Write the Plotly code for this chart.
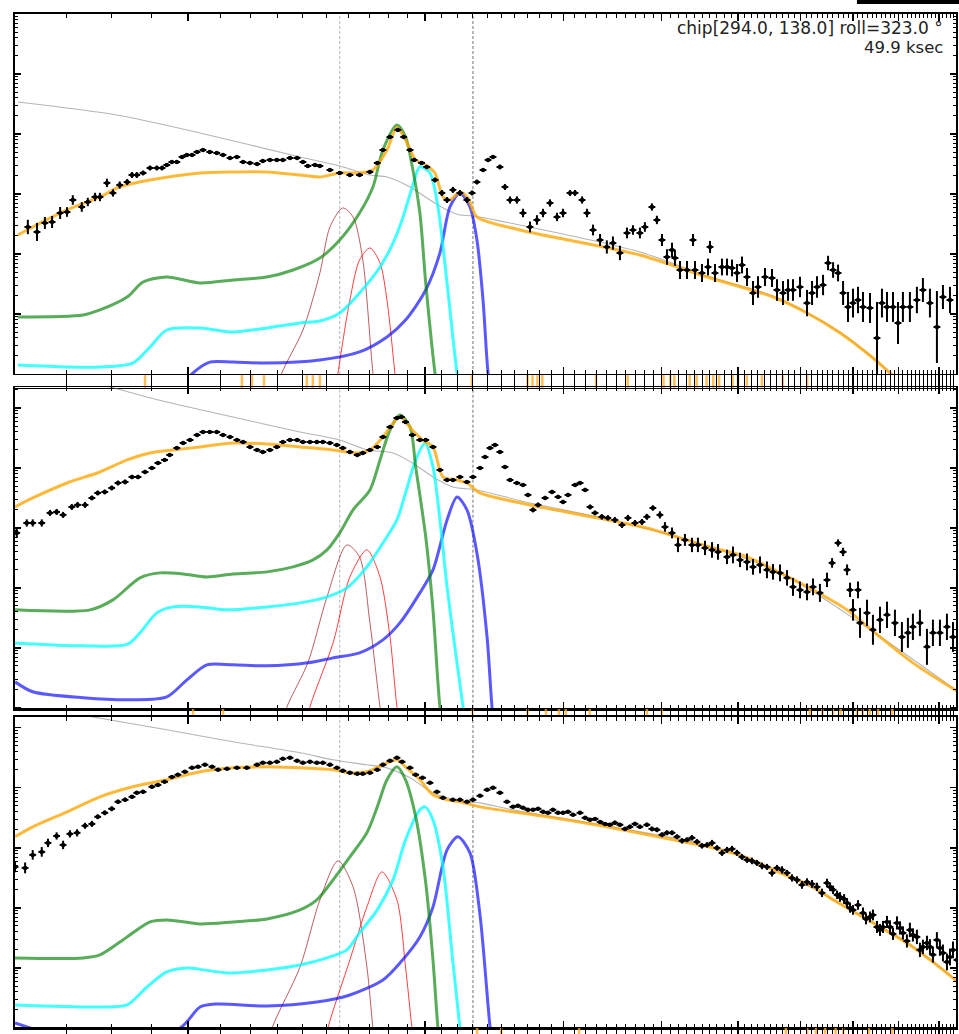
import plotly.graph_objects as go

# ---------------- data: energies (keV) and rates ----------------
# Panel 1
p1_E = [0.626,0.643,0.658,0.672,0.688,0.702,0.714,0.733,0.746,0.762,0.773,0.789,0.803,0.819,0.837,0.849,0.861,0.877,0.895,0.913,
        0.927,0.940,0.954,0.968,0.983,0.997,1.012,1.027,1.045,1.066,1.088,1.108,1.131,1.154,1.175,1.199,1.224,1.245,1.271,1.297,
        1.320,1.348,1.376,1.400,1.420,1.450,1.471,1.515,1.559,1.606,1.652,1.703,1.740,1.769,1.806,1.848,1.880,1.915,1.938,1.981,
        2.011,2.060,2.102,2.134,2.171,2.216,2.262,2.296,2.329,2.371,2.406,2.441,2.491,2.528,2.566,2.618,2.665,2.720,2.776,2.826,
        2.884,2.944,2.996,3.058,3.103,3.168,3.214,3.271,3.339,3.406,3.467,3.539,3.613,3.676,3.752,3.807,3.886,3.943,4.002,4.061,
        4.121,4.157,4.219,4.306,4.382,4.408,4.499,4.579,4.606,4.674,4.770,4.841,4.912,4.984,5.058,5.132,5.223,5.300,5.410,5.522,
        5.603,5.702,5.787,5.872,5.993,6.117,6.208,6.299,6.411,6.506,6.602,6.699,6.798,6.897,6.998,7.101,7.206,7.355,7.507,7.617,
        7.730,7.867,7.983,8.099,8.266,8.437,8.587,8.765,8.946,9.105,9.294]
p1_rate = [0.0282,0.0233,0.0329,0.0341,0.0482,0.0501,0.0794,0.0607,0.0736,0.0891,0.0891,0.153,0.104,0.141,0.158,0.207,0.207,0.224,0.271,0.271,
           0.271,0.304,0.341,0.341,0.414,0.447,0.447,0.501,0.541,0.501,0.482,0.447,0.398,0.414,0.341,0.329,0.316,0.355,0.369,0.369,
           0.369,0.398,0.398,0.341,0.293,0.304,0.293,0.251,0.224,0.207,0.207,0.233,0.329,0.541,0.891,1.17,0.891,0.541,0.369,0.329,
           0.282,0.171,0.104,0.0794,0.117,0.104,0.0794,0.104,0.158,0.251,0.369,0.414,0.282,0.131,0.0794,0.0794,0.0482,0.0282,0.0369,0.0482,
           0.0708,0.0414,0.0482,0.104,0.104,0.0794,0.0482,0.0251,0.0171,0.0131,0.0152,0.0104,0.0224,0.0251,0.0224,0.0282,0.0607,0.0369,0.0171,0.00891,
           0.0117,0.00857,0.00541,0.00541,0.0171,0.00541,0.00482,0.00607,0.0131,0.00482,0.00607,0.00607,0.00585,0.00482,0.00656,0.00414,0.00224,0.00282,0.00414,0.00398,
           0.00251,0.00224,0.00251,0.00251,0.00282,0.00152,0.00224,0.00282,0.00304,0.00708,0.00541,0.00482,0.00224,0.00131,0.00152,0.00171,0.00131,0.00126,0.000398,0.00152,
           0.00131,0.00131,0.000708,0.00131,0.00131,0.00171,0.00251,0.00152,0.000607,0.00192,0.00171]
p1_err_dex = [0.12,0.15,0.10,0.10,0.10,0.08,0.08,0.08,0.07,0.07,0.07,
              0.07,0.06,0.06,0.05,0.05,0.05,0.04,0.04,0.04,0.04,0.03,0.03,0.03,
              0.03,0.03,0.03,0.03,0.03,0.03,0.03,0.03,0.03,0.03,0.03,0.03,0.03,0.03,0.03,0.03,0.03,0.03,0.03,0.03,0.03,0.03,0.03,0.03,
              0.03,0.03,0.03,0.03,0.03,0.03,0.02,0.02,0.02,0.03,0.03,0.03,0.03,0.04,0.05,0.05,0.05,0.05,0.05,0.04,0.04,0.03,0.03,0.03,
              0.04,0.05,0.06,0.06,0.07,0.09,0.08,0.07,0.06,0.07,0.07,0.05,0.05,0.06,0.07,0.09,0.10,0.11,0.11,0.12,0.09,0.08,0.09,0.08,0.06,0.07,
              0.10,0.13,0.12,0.13,0.15,0.15,0.10,0.15,0.15,0.14,0.10,0.15,0.14,0.14,0.14,0.15,0.14,0.15,0.20,0.18,0.15,0.15,0.18,0.20,0.18,0.18,0.17,
              0.22,0.20,0.18,0.17,0.12,0.13,0.14,0.20,0.25,0.24,0.22,0.25,0.25,0.60,0.24,0.25,0.25,0.35,0.25,0.25,0.22,0.20,0.24,0.60,0.20,0.22]

p1_total_E = [0.608,0.635,0.702,0.773,0.819,0.895,1.036,1.141,1.260,1.388,1.471,1.559,1.652,1.718,1.790,1.843,1.890,1.947,2.005,2.060,
              2.109,2.152,2.216,2.269,2.329,2.641,3.752,4.566,5.538,6.117,6.738,7.419,7.798,8.200]
p1_total = [0.0207,0.0282,0.0541,0.0891,0.131,0.171,0.224,0.233,0.233,0.207,0.192,0.224,0.224,0.251,0.541,1.3,0.794,0.369,0.304,0.224,
            0.0891,0.0794,0.108,0.0857,0.0414,0.0251,0.00962,0.00414,0.00192,0.00104,0.000482,0.000185,0.000104,0.00006]
p1_gray_E = [0.608,0.812,1.036,1.388,1.559,1.703,1.790,1.915,2.030,2.134,2.216,2.302,2.641,3.752,4.566,5.538,6.738,7.798,8.2]
p1_gray = [3.41,2.07,1.04,0.414,0.293,0.207,0.192,0.131,0.0794,0.0541,0.0447,0.0430,0.0304,0.0108,0.0043,0.002,0.0005,0.000108,0.00006]
p1_green_E = [0.608,0.736,0.773,0.837,0.877,0.940,1.036,1.141,1.260,1.360,1.471,1.559,1.652,1.718,1.769,1.843,1.890,1.928,1.971,2.005,2.060,2.090]
p1_green = [0.000891,0.000962,0.00117,0.00192,0.00341,0.00414,0.00329,0.00369,0.00414,0.00541,0.00857,0.0171,0.0482,0.131,0.541,1.41,0.891,0.282,0.0482,0.00329,0.000104,0.00003]
p1_cyan_E = [0.608,0.702,0.773,0.851,0.895,0.940,1.036,1.141,1.260,1.388,1.471,1.559,1.652,1.754,1.822,1.871,1.928,1.971,2.030,2.078,2.134,2.197,2.230]
p1_cyan = [0.000141,0.000131,0.000131,0.000152,0.000282,0.000541,0.000585,0.000501,0.000585,0.000708,0.000764,0.00104,0.00224,0.00607,0.0152,0.0369,0.131,0.282,0.224,0.0607,0.00329,0.000104,0.00003]
p1_blue_E = [0.970,1.015,1.066,1.141,1.260,1.471,1.652,1.790,1.890,2.005,2.090,2.152,2.216,2.282,2.329,2.371,2.406,2.440]
p1_blue = [0.00005,0.000104,0.000158,0.000158,0.000152,0.000171,0.000233,0.000414,0.000794,0.00251,0.0104,0.0607,0.104,0.0607,0.0171,0.00171,0.000104,0.00003]
p1_dred_E = [1.28,1.316,1.400,1.471,1.515,1.573,1.621,1.668,1.718,1.74]
p1_dred = [0.00003,0.000104,0.000541,0.00482,0.0282,0.0585,0.0414,0.00794,0.000104,0.00003]
p1_red_E = [1.53,1.551,1.606,1.652,1.703,1.754,1.790,1.832,1.85]
p1_red = [0.00003,0.000104,0.00171,0.00794,0.0126,0.00708,0.00171,0.000104,0.00003]
p1_rug_E = [0.882,1.171,1.206,1.249,1.416,1.441,1.471,2.295,2.70,2.74,2.78,2.82,3.30,3.62,4.02,4.10,4.15,4.34,4.43,4.56,4.65,4.73,4.92,5.0,5.13,5.36,5.70,6.12]

# Panel 2
p2_E = [0.606,0.624,0.635,0.652,0.668,0.681,0.694,0.712,0.724,0.740,0.755,0.768,0.784,0.800,0.815,0.832,0.849,0.864,0.882,0.900,
        0.916,0.934,0.948,0.968,0.986,1.006,1.027,1.045,1.066,1.088,1.108,1.131,1.154,1.175,1.199,1.224,1.245,1.271,1.297,1.320,
        1.348,1.376,1.400,1.429,1.458,1.484,1.515,1.546,1.573,1.606,1.641,1.668,1.703,1.740,1.769,1.806,1.843,1.867,1.890,1.928,
        1.971,2.005,2.048,2.090,2.134,2.171,2.216,2.262,2.302,2.350,2.385,2.420,2.455,2.491,2.528,2.566,2.618,2.665,2.704,2.744,
        2.785,2.843,2.901,2.953,2.996,3.040,3.103,3.149,3.196,3.243,3.290,3.357,3.416,3.487,3.560,3.623,3.698,3.774,3.829,3.897,
        3.978,4.037,4.121,4.194,4.280,4.369,4.446,4.539,4.633,4.715,4.841,4.926,5.028,5.132,5.223,5.331,5.441,5.538,5.653,5.770,
        5.872,5.993,6.117,6.226,6.353,6.486,6.583,6.699,6.798,6.878,6.938,6.998,7.101,7.143,7.291,7.419,7.573,7.730,7.912,8.075,
        8.218,8.339,8.512,8.689,8.842,9.025,9.212,9.376]
p2_rate = [0.0826,0.121,0.121,0.121,0.178,0.185,0.165,0.224,0.242,0.242,0.316,0.383,0.398,0.464,0.562,0.585,0.708,0.708,0.857,1.0,
           1.21,1.36,1.65,2.15,2.61,2.93,3.55,3.98,3.98,3.98,3.55,3.29,2.93,2.71,2.24,2.0,1.85,2.0,2.24,2.71,
           2.93,2.93,2.71,2.71,2.71,2.71,2.61,2.42,2.15,1.85,1.65,1.78,2.0,2.24,3.29,4.82,6.81,7.08,5.85,3.55,
           2.93,2.93,2.24,0.926,0.631,0.631,0.708,0.585,0.708,1.0,1.52,2.15,2.42,1.85,1.04,0.631,0.562,0.521,0.355,0.2,
           0.242,0.316,0.398,0.329,0.271,0.355,0.521,0.562,0.430,0.224,0.178,0.153,0.147,0.136,0.112,0.147,0.121,0.126,0.153,0.215,
           0.165,0.104,0.0826,0.0521,0.0631,0.0521,0.0521,0.0464,0.0430,0.0398,0.0329,0.0355,0.0293,0.0271,0.0224,0.0242,0.02,0.0185,0.0178,0.0147,
           0.0104,0.00926,0.00857,0.0104,0.00826,0.0136,0.0261,0.0562,0.0398,0.02,0.00926,0.0043,0.00926,0.00261,0.00383,0.002,0.00293,0.00355,0.00261,0.00152,
           0.00178,0.00224,0.00261,0.00104,0.00178,0.00178,0.00224,0.00152]
p2_err_dex = [0.07,0.06,0.06,0.06,0.05,0.05,0.05,0.05,0.05,0.05,0.04,0.04,0.04,0.04,0.04,0.04,0.035,0.035,0.035,0.03,
              0.025,0.025,0.025,0.025,0.025,0.025,0.025,0.025,0.025,0.025,0.025,0.025,0.025,0.025,0.025,0.025,0.025,0.025,0.025,0.025,
              0.025,0.025,0.025,0.025,0.025,0.025,0.025,0.025,0.025,0.025,0.025,0.025,0.025,0.025,0.025,0.025,0.025,0.025,0.025,0.025,
              0.025,0.025,0.025,0.03,0.03,0.03,0.03,0.03,0.03,0.025,
              0.025,0.025,0.025,0.025,0.03,0.03,0.03,0.03,0.035,0.04,0.04,0.035,0.035,0.035,0.035,0.035,0.03,0.03,0.035,0.04,
              0.04,0.045,0.045,0.05,0.05,0.05,0.05,0.05,0.05,0.045,
              0.06,0.08,0.09,0.12,0.1,0.12,0.12,0.12,0.13,0.13,0.12,0.14,0.12,0.14,0.13,0.14,0.14,0.13,0.14,0.13,0.15,0.14,0.14,0.14,0.15,
              0.12,0.08,0.06,0.07,0.09,0.12,0.18,0.14,
              0.25,0.22,0.25,0.22,0.22,0.22,0.25,0.25,0.22,0.22,0.3,0.22,0.22,0.22,0.25]
p2_total_E = [0.603,0.635,0.702,0.773,0.837,0.895,0.957,1.036,1.141,1.260,1.388,1.529,1.641,1.703,1.769,1.859,1.928,1.986,2.048,2.109,
              2.197,2.262,2.350,2.720,3.310,3.829,4.219,4.646,5.132,5.653,6.226,6.878,7.573,8.339,9.514]
p2_total = [0.224,0.316,0.562,0.857,1.36,1.78,2.0,2.24,2.61,2.51,2.24,2.0,1.78,2.0,3.29,7.08,4.30,2.93,2.24,0.708,
            0.631,0.562,0.383,0.242,0.147,0.1,0.0681,0.0464,0.0329,0.0178,0.00926,0.0043,0.00152,0.000562,0.000185]
p2_gray_E = [0.603,0.796,0.940,1.141,1.388,1.559,1.688,1.822,1.928,2.048,2.171,2.329,2.720,3.310,4.219,5.653,7.573,9.514]
p2_gray = [58.5,22.4,12.6,7.08,3.98,2.93,2.0,1.78,1.21,0.708,0.482,0.430,0.261,0.153,0.069,0.018,0.00155,0.000187]
p2_green_E = [0.603,0.751,0.803,0.869,0.921,0.986,1.057,1.141,1.260,1.360,1.442,1.502,1.559,1.621,1.703,1.754,1.806,1.859,1.915,1.947,2.005,2.048,2.090,2.12]
p2_green = [0.0043,0.0043,0.00631,0.0147,0.0178,0.0171,0.0152,0.0171,0.0185,0.0224,0.0293,0.043,0.0826,0.2,0.43,1.36,4.3,7.64,4.82,1.04,0.0708,0.0043,0.000104,0.00003]
p2_cyan_E = [0.603,0.736,0.837,0.869,0.913,0.957,1.036,1.121,1.260,1.388,1.502,1.592,1.688,1.769,1.843,1.890,1.947,2.001,2.048,2.090,2.134,2.197,2.236,2.26]
p2_cyan = [0.00121,0.00108,0.00114,0.00178,0.00383,0.00482,0.00482,0.0043,0.00482,0.00562,0.00708,0.01,0.0224,0.0562,0.136,0.383,1.36,2.61,1.04,0.136,0.0104,0.000562,0.000104,0.00003]
p2_blue_E = [0.603,0.635,0.736,0.851,0.940,0.997,1.057,1.141,1.260,1.420,1.529,1.652,1.769,1.859,1.971,2.048,2.134,2.197,2.262,2.329,2.399,2.434,2.46]
p2_blue = [0.000271,0.000185,0.000147,0.000136,0.000152,0.000293,0.000521,0.000521,0.000501,0.000562,0.000681,0.000826,0.00136,0.00261,0.00826,0.02,0.136,0.329,0.2,0.0383,0.00152,0.000104,0.00003]
p2_dred_E = [1.30,1.336,1.420,1.502,1.592,1.652,1.703,1.754,1.78]
p2_dred = [0.00003,0.000104,0.000562,0.00708,0.0521,0.0329,0.00261,0.000104,0.00003]
p2_red_E = [1.40,1.429,1.529,1.606,1.688,1.754,1.806,1.843,1.87]
p2_red = [0.00003,0.000104,0.00121,0.0152,0.043,0.0152,0.00152,0.000104,0.00003]
p2_rug_E = [1.015,1.108,2.30,2.70,2.85,2.96,3.02,3.24,3.83,4.00,6.17,6.40,6.60,6.75,7.08,7.20,7.35,7.53,7.85]

# Panel 3
p3_E = [0.603,0.621,0.635,0.652,0.664,0.681,0.694,0.708,0.723,0.740,0.755,0.768,0.784,0.800,0.815,0.832,0.849,0.861,0.877,0.900,
        0.916,0.934,0.954,0.971,0.991,1.012,1.030,1.051,1.073,1.092,1.121,1.154,1.188,1.224,1.245,1.271,1.297,1.320,1.348,1.376,
        1.400,1.429,1.458,1.484,1.515,1.546,1.573,1.606,1.641,1.668,1.703,1.740,1.769,1.806,1.843,1.871,1.915,1.947,1.986,2.030,
        2.072,2.109,2.171,2.216,2.262,2.302,2.350,2.399,2.441,2.491,2.543,2.588,2.665,2.744,2.826,2.909,2.996,3.085,3.149,3.243,
        3.339,3.436,3.539,3.644,3.752,3.829,3.943,4.061,4.182,4.306,4.434,4.566,4.701,4.841,4.984,5.132,5.284,5.441,5.603,5.770,
        5.941,6.117,6.299,6.486,6.602,6.738,6.878,6.998,7.206,7.355,7.507,7.640,7.798,7.959,8.099,8.266,8.437,8.587,8.765,8.946,
        9.105,9.294,9.487,
        2.626,2.704,2.785,2.867,2.953,3.040,3.196,3.290,3.388,3.487,3.592,3.698,3.886,4.002,4.121,4.244,4.369,4.499,4.633,4.770,
        4.912,5.058,5.207,5.363,5.522,5.686,5.854,6.028,6.208,6.391,6.545,6.680,6.818,6.938,7.101,7.270,7.419,7.573,7.730,7.867,
        8.031,8.194,8.339,8.512,8.689,8.842,9.025,9.212,9.376]
p3_rate = [0.0482,0.0464,0.0764,0.0857,0.121,0.158,0.112,0.171,0.178,0.233,0.251,0.329,0.383,0.447,0.585,0.631,0.708,0.826,0.857,1.04,
           1.12,1.26,1.52,1.65,1.85,2.15,2.24,2.42,2.24,2.0,2.07,2.15,2.15,2.42,2.61,2.61,2.71,3.04,3.16,2.82,
           2.61,2.71,2.61,2.61,2.42,2.15,1.92,1.78,1.71,1.71,1.78,2.0,2.42,2.82,3.16,2.71,2.15,1.65,1.47,1.21,
           0.857,0.681,0.631,0.631,0.585,0.631,0.736,0.926,1.0,0.826,0.585,0.482,0.464,0.430,0.398,0.430,0.383,0.355,0.383,0.293,
           0.271,0.242,0.242,0.224,0.224,0.242,0.2,0.178,0.153,0.136,0.126,0.112,0.1,0.0926,0.0826,0.0631,0.0562,0.0482,0.0464,0.0383,
           0.0293,0.0271,0.0224,0.0261,0.02,0.0152,0.0121,0.00926,0.00826,0.00708,0.00482,0.00482,0.00482,0.00562,0.00383,0.0043,0.00329,0.00224,0.00224,0.00293,
           0.00178,0.00152,0.00136,
           0.501,0.430,0.447,0.383,0.383,0.398,0.316,0.304,0.251,0.261,0.207,0.251,0.207,0.165,0.178,0.131,0.147,0.108,0.121,0.0825,
           0.0962,0.0708,0.0607,0.0501,0.0383,0.043,0.0316,0.0242,0.0251,0.0178,0.0224,0.0165,0.0141,0.01,0.0112,0.00656,0.00764,0.0043,0.00585,0.00369,
           0.00464,0.00282,0.00355,0.002,0.00261,0.00166,0.00215,0.00126,0.002]
p3_err_dex = [0.09,0.09,0.08,0.08,0.07,0.06,0.07,0.06,0.06,0.05,
              0.05,0.04,0.04,0.04,0.035,0.035,0.03,0.03,0.03,0.03,
              0.02,0.02,0.02,0.02,0.02,0.02,0.02,0.02,0.02,0.02,0.02,0.02,0.02,0.02,0.02,0.02,0.02,0.02,0.02,0.02,
              0.02,0.02,0.02,0.02,0.02,0.02,0.02,0.02,0.02,0.02,0.02,0.02,0.02,0.02,0.02,0.02,0.02,0.02,0.02,0.02,
              0.02,0.02,0.02,0.02,0.02,0.02,0.02,0.02,0.02,0.02,0.02,0.02,0.02,0.02,0.025,0.025,0.025,0.025,0.025,0.025,
              0.03,0.03,0.03,0.035,0.035,0.035,0.04,0.04,0.04,0.04,0.045,0.045,0.045,0.05,0.05,0.05,0.05,0.05,0.05,0.05,
              0.06,0.06,0.07,0.07,0.07,0.08,0.08,0.08,0.09,0.09,
              0.10,0.10,0.11,0.11,0.11,0.12,0.12,0.12,0.13,0.13,0.14,0.14,0.15,
              0.025,0.025,0.025,0.025,0.025,0.03,0.03,0.03,0.03,0.035,0.035,0.035,0.04,0.04,0.04,0.045,0.045,0.045,0.05,0.05,
              0.05,0.05,0.055,0.055,0.06,0.06,0.06,0.065,0.065,0.07,0.07,0.07,0.08,0.08,0.08,0.09,0.09,0.1,0.1,0.1,
              0.11,0.11,0.11,0.12,0.12,0.13,0.13,0.14,0.14]
p3_total_E = [0.603,0.635,0.702,0.773,0.851,0.940,1.036,1.141,1.260,1.388,1.529,1.606,1.688,1.769,1.843,1.890,1.971,2.048,2.134,2.216,
              2.350,2.859,3.467,4.014,4.646,5.132,5.653,6.226,6.545,6.878,7.573,8.339,9.514]
p3_total = [0.153,0.224,0.398,0.708,1.04,1.36,1.85,2.15,2.24,2.15,2.0,1.78,1.85,2.42,2.93,2.24,1.36,0.764,0.631,0.585,
            0.482,0.329,0.215,0.147,0.1,0.0681,0.0383,0.0224,0.0147,0.01,0.00482,0.00224,0.000585]
p3_gray_E = [0.603,0.757,0.940,1.141,1.388,1.529,1.688,1.790,1.915,2.048,2.216,2.350,2.588,3.467,4.646,5.653,6.878,8.339,9.514]
p3_gray = [26.1,15.2,9.26,5.85,3.83,2.93,2.42,2.15,1.47,0.826,0.607,0.562,0.43,0.224,0.104,0.0395,0.0102,0.00228,0.000595]
p3_green_E = [0.603,0.736,0.773,0.837,0.895,0.940,1.036,1.141,1.260,1.388,1.458,1.529,1.606,1.688,1.740,1.790,1.843,1.890,1.947,2.005,2.048,2.078,2.10]
p3_green = [0.00147,0.00147,0.00165,0.00329,0.00585,0.00631,0.00541,0.00585,0.00656,0.00926,0.0136,0.0293,0.0708,0.178,0.482,1.36,2.24,1.36,0.329,0.0261,0.00136,0.0001,0.00003]
p3_cyan_E = [0.603,0.773,0.837,0.887,0.940,0.997,1.121,1.260,1.388,1.502,1.592,1.652,1.740,1.822,1.890,1.971,2.001,2.048,2.109,2.165,2.216,2.24]
p3_cyan = [0.000242,0.000224,0.000242,0.000482,0.000857,0.001,0.000826,0.000926,0.00112,0.00147,0.002,0.00383,0.00926,0.0293,0.136,0.43,0.482,0.293,0.0482,0.00178,0.0001,0.00003]
p3_blue_E = [0.603,0.773,0.977,1.036,1.088,1.260,1.458,1.606,1.769,1.859,1.971,2.048,2.134,2.203,2.282,2.350,2.420,2.45]
p3_blue = [0.000121,0.0000525,0.0001,0.000224,0.000251,0.000232,0.000271,0.000355,0.000631,0.00121,0.00329,0.0104,0.0926,0.153,0.0826,0.00764,0.000104,0.00003]
p3_dred_E = [1.25,1.279,1.388,1.471,1.551,1.621,1.688,1.718,1.74]
p3_dred = [0.00003,0.0001,0.00104,0.0136,0.0607,0.0224,0.00104,0.0001,0.00003]
p3_red_E = [1.48,1.506,1.606,1.688,1.764,1.843,1.890,1.926,1.95]
p3_red = [0.00003,0.0001,0.00136,0.0104,0.0398,0.0136,0.00104,0.0001,0.00003]
p3_rug_E = [2.33,2.50,3.14,5.75,6.12,6.28,6.45,6.65,6.80,7.33,7.85]

# reference energies of the dashed markers
line_E_light = 1.559
line_E_dark = 2.302

info_line1 = "chip[294.0, 138.0] roll=323.0 °"
info_line2 = "49.9 ksec"

# ---------------- layout geometry ----------------
X_DOM = [0.0156, 0.9969]
X_RANGE = [-0.2198, 0.9759]
Y_DOM = {1: [0.6383, 0.9865], 2: [0.3143, 0.6257], 3: [0.0058, 0.3066]}
Y_RANGE = {1: [-4.0, 2.0], 2: [-4.02, 1.35], 3: [-4.0, 1.18]}
RUG_DOM = {1: [0.6248, 0.6373], 2: [0.3085, 0.3143], 3: [0.0, 0.0058]}

X_MAJOR = [1, 2, 3, 4, 5, 6, 7, 8, 9]
X_MINOR = [round(0.1 * k, 1) for k in range(6, 95) if k % 10 != 0]
Y_MAJOR = [10.0 ** k for k in range(-5, 3)]
Y_MINOR = [m * 10.0 ** k for k in range(-5, 3) for m in range(2, 10)]

C_ORANGE = "rgba(255,165,0,0.78)"
C_GREEN = "rgba(0,128,0,0.65)"
C_CYAN = "rgba(0,255,255,0.75)"
C_BLUE = "rgba(0,0,255,0.65)"
C_GRAY = "rgba(120,120,120,0.55)"
C_DRED = "rgba(165,42,42,0.75)"
C_RED = "rgba(255,0,0,0.75)"

panels = {
    1: dict(E=p1_E, r=p1_rate, e=p1_err_dex, tot=(p1_total_E, p1_total), gray=(p1_gray_E, p1_gray),
            green=(p1_green_E, p1_green), cyan=(p1_cyan_E, p1_cyan), blue=(p1_blue_E, p1_blue),
            dred=(p1_dred_E, p1_dred), red=(p1_red_E, p1_red), rug=p1_rug_E),
    2: dict(E=p2_E, r=p2_rate, e=p2_err_dex, tot=(p2_total_E, p2_total), gray=(p2_gray_E, p2_gray),
            green=(p2_green_E, p2_green), cyan=(p2_cyan_E, p2_cyan), blue=(p2_blue_E, p2_blue),
            dred=(p2_dred_E, p2_dred), red=(p2_red_E, p2_red), rug=p2_rug_E),
    3: dict(E=p3_E, r=p3_rate, e=p3_err_dex, tot=(p3_total_E, p3_total), gray=(p3_gray_E, p3_gray),
            green=(p3_green_E, p3_green), cyan=(p3_cyan_E, p3_cyan), blue=(p3_blue_E, p3_blue),
            dred=(p3_dred_E, p3_dred), red=(p3_red_E, p3_red), rug=p3_rug_E),
}

fig = go.Figure()

for k, P in panels.items():
    xa = "x" if k == 1 else f"x{k}"
    ya = "y" if k == 1 else f"y{k}"
    yr = f"y{k + 3}"

    def curve(xy, color, width, dash="solid", shape="spline"):
        fig.add_trace(go.Scatter(x=xy[0], y=xy[1], mode="lines", xaxis=xa, yaxis=ya,
                                 line=dict(color=color, width=width, dash=dash, shape=shape, smoothing=0.8),
                                 hoverinfo="skip", showlegend=False))

    # dashed marker lines
    for le, col in ((line_E_light, "rgba(150,150,150,0.7)"), (line_E_dark, "rgba(80,80,80,0.8)")):
        fig.add_trace(go.Scatter(x=[le, le], y=[1e-6, 1e4], mode="lines", xaxis=xa, yaxis=ya,
                                 line=dict(color=col, width=1, dash="3px,2px"), hoverinfo="skip", showlegend=False))

    curve(P["gray"], C_GRAY, 1.1)
    curve(P["dred"], C_DRED, 1.0)
    curve(P["red"], C_RED, 1.0)
    curve(P["blue"], C_BLUE, 3)
    curve(P["cyan"], C_CYAN, 3)
    curve(P["green"], C_GREEN, 3)
    curve(P["tot"], C_ORANGE, 3)

    up = [v * (10 ** s - 1) for v, s in zip(P["r"], P["e"])]
    dn = [v * (1 - 10 ** (-s)) for v, s in zip(P["r"], P["e"])]
    fig.add_trace(go.Scatter(x=P["E"], y=P["r"], mode="markers", xaxis=xa, yaxis=ya,
                             marker=dict(color="black", size=4.5, symbol="circle"),
                             error_y=dict(type="data", symmetric=False, array=up, arrayminus=dn,
                                          color="black", thickness=2, width=0),
                             error_x=dict(type="percent", value=1.0, color="black", thickness=2, width=0),
                             hoverinfo="skip", showlegend=False))

    # orange rug marks below each panel
    rx, ry = [], []
    for e in P["rug"]:
        rx += [e, e, None]
        ry += [0, 1, None]
    fig.add_trace(go.Scatter(x=rx, y=ry, mode="lines", xaxis=xa, yaxis=yr,
                             line=dict(color="rgba(255,170,30,0.75)", width=2.5),
                             hoverinfo="skip", showlegend=False))

    xkey = "xaxis" if k == 1 else f"xaxis{k}"
    ykey = "yaxis" if k == 1 else f"yaxis{k}"
    fig.layout[xkey] = dict(type="log", domain=X_DOM, range=X_RANGE, anchor=ya,
                            matches=None if k == 1 else "x",
                            showline=True, linecolor="black", linewidth=1.5, mirror="allticks",
                            ticks="inside", ticklen=7, tickwidth=1.3, tickcolor="black",
                            tickmode="array", tickvals=X_MAJOR, showticklabels=False,
                            minor=dict(tickmode="array", tickvals=X_MINOR, ticks="inside", ticklen=4,
                                       tickwidth=1, tickcolor="black", showgrid=False),
                            showgrid=False, zeroline=False)
    fig.layout[ykey] = dict(type="log", domain=Y_DOM[k], range=Y_RANGE[k], anchor=xa,
                            showline=True, linecolor="black", linewidth=1.5, mirror="allticks",
                            ticks="inside", ticklen=6, tickwidth=1.3, tickcolor="black",
                            tickmode="array", tickvals=Y_MAJOR, showticklabels=False,
                            minor=dict(tickmode="array", tickvals=Y_MINOR, ticks="inside", ticklen=3,
                                       tickwidth=1, tickcolor="black", showgrid=False),
                            showgrid=False, zeroline=False)
    fig.layout[f"yaxis{k + 3}"] = dict(domain=RUG_DOM[k], range=[0, 1], anchor=xa, visible=False,
                                       fixedrange=True)

fig.add_annotation(text=info_line1, xref="paper", yref="paper", x=0.9854, y=0.9729,
                   xanchor="right", yanchor="middle", showarrow=False,
                   font=dict(family="DejaVu Sans", size=17, color="#222"))
fig.add_annotation(text=info_line2, xref="paper", yref="paper", x=0.9854, y=0.9545,
                   xanchor="right", yanchor="middle", showarrow=False,
                   font=dict(family="DejaVu Sans", size=16.5, color="#222"))

fig.add_shape(type="rect", xref="paper", yref="paper", x0=0.8936, x1=1.0, y0=0.9961, y1=1.0,
              fillcolor="black", line=dict(width=0))

fig.update_layout(width=959, height=1034, margin=dict(l=0, r=0, t=0, b=0), autosize=False,
                  paper_bgcolor="white", plot_bgcolor="rgba(0,0,0,0)", showlegend=False)

fig.write_html("out.html", config={"responsive": False, "displayModeBar": False, "staticPlot": True},
               default_width="959px", default_height="1034px",
               post_script="document.body.style.margin='0px';document.body.style.padding='0px';"
                           "document.body.style.overflow='hidden';")
